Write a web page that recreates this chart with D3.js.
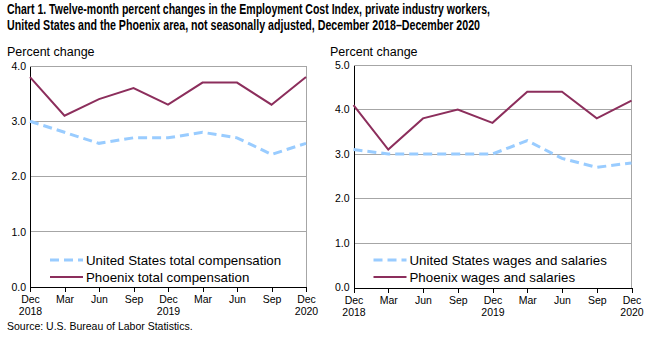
<!DOCTYPE html>
<html><head><meta charset="utf-8">
<script src="https://cdn.jsdelivr.net/npm/d3@7"></script>
<style>body{margin:0;background:#fff}svg{display:block}</style>
</head><body>
<svg id="c" width="653" height="339"></svg>
<script>
const months = ["Dec\n2018","Mar","Jun","Sep","Dec\n2019","Mar","Jun","Sep","Dec\n2020"];
const usTotal = [3.0,2.8,2.6,2.7,2.7,2.8,2.7,2.4,2.6];
const phxTotal = [3.8,3.1,3.4,3.6,3.3,3.7,3.7,3.3,3.8];
const usWages = [3.1,3.0,3.0,3.0,3.0,3.3,2.9,2.7,2.8];
const phxWages = [4.1,3.1,3.8,4.0,3.7,4.4,4.4,3.8,4.2];
const leftTicks = [0,1,2,3,4];
const rightTicks = [0,1,2,3,4,5];
const titleLines = ["Chart 1. Twelve-month percent changes in the Employment Cost Index, private industry workers,",
  "United States and the Phoenix area, not seasonally adjusted, December 2018\u2013December 2020"];
const titleWidths = [483, 473];

const svg = d3.select("#c");
const font = "Arial, 'Liberation Sans', sans-serif";
svg.append("g").selectAll("text").data(titleLines).join("text")
  .attr("x",7).attr("y",(d,i)=>14+i*16)
  .attr("font-family",font)
  .attr("font-weight","bold").attr("font-size",14).attr("fill","#000")
  .attr("textLength",(d,i)=>titleWidths[i]).attr("lengthAdjust","spacingAndGlyphs")
  .text(d=>d);

svg.append("text").attr("x",7).attr("y",330).attr("font-family",font)
  .attr("font-size",10.5).text("Source: U.S. Bureau of Labor Statistics.");

function panel(x0,x1,yTop,yBot,maxV,ticks,us,phx,usLabel,phxLabel,labelX){
  const g = svg.append("g");
  const x = d3.scalePoint().domain(d3.range(months.length)).range([x0,x1]);
  const y = d3.scaleLinear().domain([0,maxV]).range([yBot,yTop]);
  g.append("text").attr("x",labelX).attr("y",56).attr("font-family",font)
    .attr("font-size",12.5).text("Percent change");
  g.selectAll("line.grid").data(ticks.filter(t=>t>0)).join("line")
    .attr("x1",x0).attr("x2",x1).attr("y1",d=>y(d)).attr("y2",d=>y(d))
    .attr("stroke","#a6a6a6").attr("stroke-width",1).attr("shape-rendering","crispEdges");
  g.append("line").attr("x1",x1).attr("x2",x1).attr("y1",yTop).attr("y2",yBot)
    .attr("stroke","#a6a6a6").attr("shape-rendering","crispEdges");
  const ya = d3.axisLeft(y).tickValues(ticks).tickFormat(d3.format(".1f")).tickSize(0).tickPadding(4);
  const yg = g.append("g").attr("transform",`translate(${x0},0)`).call(ya);
  yg.select(".domain").attr("stroke","#000").attr("shape-rendering","crispEdges");
  yg.selectAll("text").attr("font-family",font).attr("font-size",10.5).attr("fill","#000");
  const xa = d3.axisBottom(x).tickSize(5).tickSizeOuter(0).tickFormat(()=>"");
  const xg = g.append("g").attr("transform",`translate(0,${yBot})`).call(xa);
  xg.select(".domain").attr("stroke","#000").attr("shape-rendering","crispEdges");
  xg.selectAll(".tick line").attr("stroke","#000").attr("shape-rendering","crispEdges");
  xg.selectAll(".tick").each(function(d){
    const t = d3.select(this).append("text").attr("fill","#000").attr("font-family",font)
      .attr("font-size",10.5).attr("text-anchor","middle");
    months[d].split("\n").forEach((s,i)=>t.append("tspan").attr("x",0).attr("y",16+i*12).text(s));
  });
  const line = d3.line().x((d,i)=>x(i)).y(d=>y(d));
  g.append("path").datum(us).attr("d",line).attr("fill","none").attr("stroke","#99ccff")
    .attr("stroke-width",3).attr("stroke-dasharray","9,5");
  g.append("path").datum(phx).attr("d",line).attr("fill","none").attr("stroke","#8c2e5c")
    .attr("stroke-width",2);
  const lx = x0+20, ly = [260,277];
  const items = [[usLabel,"#99ccff",3,"9,5"],[phxLabel,"#8c2e5c",2,null]];
  items.forEach((it,i)=>{
    g.append("line").attr("x1",lx).attr("x2",lx+33).attr("y1",ly[i]).attr("y2",ly[i])
      .attr("stroke",it[1]).attr("stroke-width",it[2]).attr("stroke-dasharray",it[3]);
    g.append("text").attr("x",lx+36).attr("y",ly[i]+5).attr("font-family",font)
      .attr("font-size",13.3).text(it[0]);
  });
}
panel(30,306,66,287,4,leftTicks,usTotal,phxTotal,"United States total compensation","Phoenix total compensation",7);
panel(353.5,631.5,65,287.5,5,rightTicks,usWages,phxWages,"United States wages and salaries","Phoenix wages and salaries",330);
</script>
</body></html>
